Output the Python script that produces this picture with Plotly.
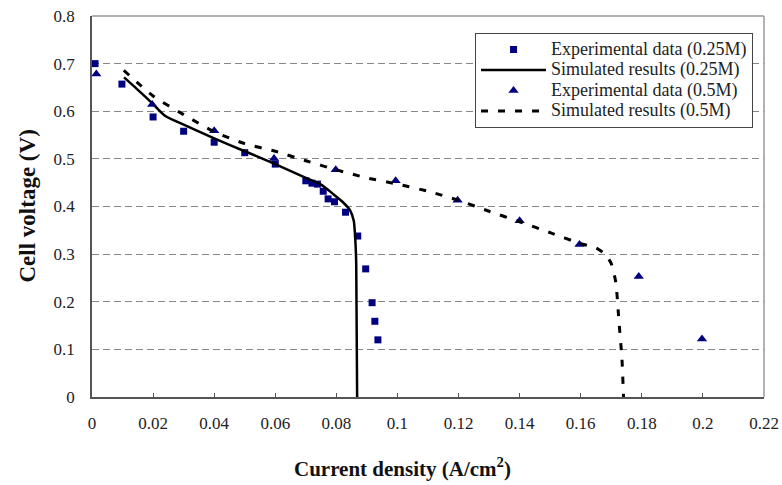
import plotly.graph_objects as go

# Experimental data (0.25M)
exp25_x = [0.001, 0.0098, 0.020, 0.030, 0.040, 0.050, 0.060, 0.070, 0.072, 0.0738, 0.0757, 0.0773, 0.0794, 0.083, 0.087, 0.0896, 0.0917, 0.0926, 0.0936]
exp25_y = [0.700, 0.657, 0.588, 0.558, 0.535, 0.513, 0.489, 0.454, 0.449, 0.447, 0.432, 0.416, 0.410, 0.388, 0.338, 0.269, 0.198, 0.159, 0.120]

# Simulated results (0.25M)
sim25_x = [0.0105, 0.015, 0.020, 0.024, 0.030, 0.040, 0.050, 0.060, 0.070, 0.075, 0.079, 0.082, 0.0845, 0.0857, 0.0862, 0.0865, 0.0868]
sim25_y = [0.671, 0.645, 0.615, 0.590, 0.572, 0.543, 0.516, 0.489, 0.460, 0.446, 0.426, 0.410, 0.392, 0.370, 0.330, 0.280, 0.000]

# Experimental data (0.5M)
exp5_x = [0.0014, 0.0197, 0.040, 0.0596, 0.0798, 0.0994, 0.1197, 0.140, 0.1596, 0.179, 0.1997]
exp5_y = [0.678, 0.614, 0.559, 0.501, 0.477, 0.454, 0.413, 0.370, 0.320, 0.253, 0.122]

# Simulated results (0.5M)
sim5_x = [0.0104, 0.020, 0.030, 0.040, 0.050, 0.060, 0.070, 0.080, 0.090, 0.100, 0.110, 0.120, 0.130, 0.140, 0.150, 0.160, 0.165, 0.168, 0.170, 0.1715, 0.1725, 0.1735, 0.174]
sim5_y = [0.686, 0.632, 0.593, 0.557, 0.532, 0.516, 0.496, 0.477, 0.460, 0.447, 0.432, 0.413, 0.390, 0.368, 0.345, 0.322, 0.313, 0.300, 0.280, 0.240, 0.160, 0.080, 0.000]

series_names = ["Experimental data (0.25M)", "Simulated results (0.25M)",
                "Experimental data (0.5M)", "Simulated results (0.5M)"]

x_ticks = [0, 0.02, 0.04, 0.06, 0.08, 0.1, 0.12, 0.14, 0.16, 0.18, 0.2, 0.22]
y_ticks = [0, 0.1, 0.2, 0.3, 0.4, 0.5, 0.6, 0.7, 0.8]

NAVY = "#000080"
FONT = "Liberation Serif, Times New Roman, serif"


def leg(name):
    return '<span style="font-size:18px">' + name + '</span>'


fig = go.Figure()
fig.add_trace(go.Scatter(x=exp25_x, y=exp25_y, mode="markers", name=leg(series_names[0]),
                         marker=dict(symbol="square", size=7, color=NAVY)))
fig.add_trace(go.Scatter(x=sim25_x, y=sim25_y, mode="lines", name=leg(series_names[1]),
                         line=dict(color="black", width=2.5, shape="spline", smoothing=0.6)))
fig.add_trace(go.Scatter(x=exp5_x, y=exp5_y, mode="markers", name=leg(series_names[2]),
                         marker=dict(symbol="triangle-up", size=9, color=NAVY)))
fig.add_trace(go.Scatter(x=sim5_x, y=sim5_y, mode="lines", name=leg(series_names[3]),
                         line=dict(color="black", width=3, dash="7px,10px", shape="spline", smoothing=0.6)))

fig.update_layout(
    width=782, height=485,
    margin=dict(l=92, r=18, t=16, b=88, autoexpand=False),
    paper_bgcolor="white", plot_bgcolor="white",
    font=dict(family=FONT, size=16, color="#222"),
    showlegend=True,
    legend=dict(x=0.57, y=0.955, xanchor="left", yanchor="top",
                bgcolor="white", bordercolor="#444", borderwidth=1,
                font=dict(family=FONT, size=13.5, color="#222"),
                itemwidth=65, tracegroupgap=0),
    xaxis=dict(range=[0, 0.22], tickvals=x_ticks,
               ticktext=[("%g" % v) for v in x_ticks],
               showgrid=False, zeroline=False, automargin=False,
               showline=True, linecolor="#555", linewidth=1.5,
               ticks="inside", ticklen=4, tickcolor="#555",
               ticklabelstandoff=10,
               tickfont=dict(family=FONT, size=17, color="#222")),
    yaxis=dict(range=[0, 0.8], tickvals=y_ticks,
               ticktext=[("%g" % v) for v in y_ticks],
               showgrid=True, gridcolor="#888", griddash="7px,4px", gridwidth=1,
               zeroline=False, automargin=False,
               showline=True, linecolor="#555", linewidth=1.5,
               ticks="", ticklabelstandoff=12,
               tickfont=dict(family=FONT, size=17, color="#222")),
)

# top and right frame (lighter)
fig.add_shape(type="line", xref="paper", yref="paper", x0=0, x1=1, y0=1, y1=1,
              line=dict(color="#999", width=1.5))
fig.add_shape(type="line", xref="paper", yref="paper", x0=1, x1=1, y0=0, y1=1,
              line=dict(color="#999", width=1.5))

fig.add_annotation(text="<b>Current density (A/cm<sup>2</sup>)</b>", xref="paper", yref="paper",
                   x=(402 - 92) / 672, y=-(468 - 397) / 381.5, showarrow=False,
                   xanchor="center", yanchor="middle",
                   font=dict(family=FONT, size=21, color="#111"))
fig.add_annotation(text="<b>Cell voltage (V)</b>", xref="paper", yref="paper",
                   x=-(92 - 27) / 672, y=0.5, showarrow=False, textangle=-90,
                   xanchor="center", yanchor="middle",
                   font=dict(family=FONT, size=23, color="#111"))

fig.write_html("out.html")
